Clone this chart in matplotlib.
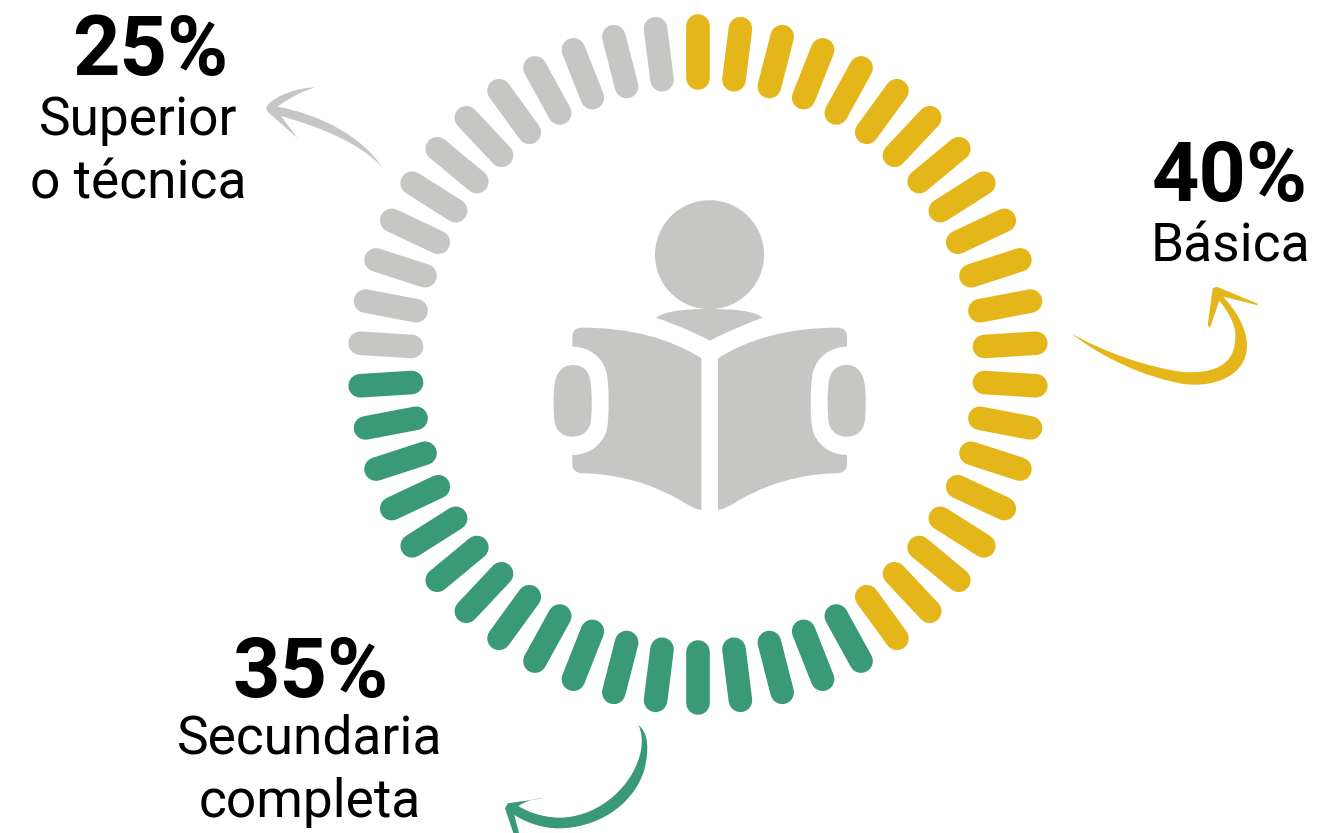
import numpy as np
import matplotlib
matplotlib.use('Agg')
import matplotlib.pyplot as plt
from matplotlib.path import Path
from matplotlib.patches import PathPatch, Circle

plt.rcParams['font.family'] = ['Roboto', 'DejaVu Sans']

# datos
shares = [40, 35, 25]
labels = ['Básica', 'Secundaria\ncompleta', 'Superior\no técnica']
tick_counts = [21, 17, 12]
colors = ['#E5B619', '#3A9A78', '#C6C6C5']

fig = plt.figure(figsize=(13.21, 8.33), dpi=100)
ax = fig.add_axes([0, 0, 1, 1])
ax.set_xlim(0, 1321)
ax.set_ylim(833, 0)
ax.axis('off')

# anillo de marcas
cx, cy = 698, 364.5
r_in, r_out = 287, 338.5
total = sum(tick_counts)
i = 0
for count, col in zip(tick_counts, colors):
    for _ in range(count):
        ang = 2 * np.pi * i / total
        ax.plot([cx + r_in * np.sin(ang), cx + r_out * np.sin(ang)],
                [cy - r_in * np.cos(ang), cy - r_out * np.cos(ang)],
                color=col, lw=17.0, solid_capstyle='round')
        i += 1


def shape(x0, y0, segs, col):
    # segs: puntos de zoom (3x) -> pixeles; 1 punto = linea, 3 puntos = bezier
    verts, codes = [], []
    for n, s in enumerate(segs):
        pts = [(x0 + p[0] / 3, y0 + p[1] / 3) for p in s]
        verts += pts
        if n == 0:
            codes.append(Path.MOVETO)
        elif len(s) == 1:
            codes.append(Path.LINETO)
        else:
            codes += [Path.CURVE4] * 3
    verts.append(verts[0])
    codes.append(Path.CLOSEPOLY)
    ax.add_patch(PathPatch(Path(verts, codes), fc=col, ec='none', clip_on=True))


# flechas
shape(1060, 280, [[(33, 160)], [(130, 235), (250, 290), (370, 312)],
                  [(480, 325), (572, 275), (560, 180)],
                  [(552, 130), (525, 90), (490, 50)],
                  [(590, 75)], [(595, 72)], [(470, 20)], [(458, 25)],
                  [(443, 135)], [(450, 143)], [(478, 62)],
                  [(512, 105), (532, 145), (525, 185)],
                  [(520, 260), (450, 282), (370, 276)],
                  [(260, 262), (130, 215), (33, 160)]], colors[0])
shape(255, 80, [[(382, 262)], [(320, 170), (200, 105), (68, 80)],
                [(100, 55), (140, 35), (180, 22)],
                [(120, 25), (70, 45), (40, 72)],
                [(33, 85)], [(40, 97)], [(128, 175)],
                [(110, 150), (90, 125), (78, 108)],
                [(190, 140), (310, 185), (382, 262)]], colors[2])
shape(495, 720, [[(430, 15)], [(462, 40), (462, 90), (448, 150)],
                 [(412, 262), (300, 325), (190, 325)],
                 [(150, 325), (100, 312), (58, 285)],
                 [(72, 339)], [(55, 339)], [(30, 265)], [(38, 250)], [(143, 235)],
                 [(115, 235), (90, 245), (70, 258)],
                 [(110, 283), (160, 294), (200, 293)],
                 [(320, 288), (420, 190), (438, 90)],
                 [(443, 60), (440, 35), (430, 15)]], colors[1])

# icono del lector
ic = colors[2]
ox, oy = 540, 190
ax.add_patch(Circle((709.5, 254.7), 54.5, fc=ic, ec='none'))
shape(ox, oy, [[(348, 383)], [(380, 360), (450, 357), (510, 357)],
               [(570, 357), (640, 360), (668, 383)],
               [(610, 405), (550, 430), (510, 452)],
               [(470, 430), (410, 405), (348, 383)]], ic)


def mirrored(raw, flip):
    if not flip:
        return raw
    return [[(2 * 509 - p[0], p[1]) for p in s] for s in raw]


page = [[(97, 440)], [(97, 422), (108, 413), (125, 413)],
        [(270, 413), (390, 445), (484, 505)], [(484, 960)],
        [(450, 955), (420, 925), (370, 905)],
        [(300, 870), (200, 850), (130, 850)],
        [(110, 850), (97, 840), (97, 822)], [(97, 795)],
        [(150, 795), (190, 760), (200, 720)],
        [(208, 690), (208, 590), (200, 550)],
        [(190, 505), (150, 470), (97, 470)]]
hand = [[(98, 525)], [(135, 525), (152, 550), (153, 590)],
        [(156, 620), (156, 650), (153, 690)],
        [(150, 720), (130, 740), (98, 740)],
        [(65, 740), (47, 720), (43, 690)],
        [(40, 650), (40, 620), (43, 590)],
        [(47, 550), (65, 525), (98, 525)]]
for flip in (False, True):
    shape(ox, oy, mirrored(page, flip), ic)
    shape(ox, oy, mirrored(hand, flip), ic)

# textos
pos = [(1230, 201, 261, 1230), (310, 697, 754, 310), (150, 75, 135, 138)]
for sh, lab, (xp, yp, yl, xl) in zip(shares, labels, pos):
    ax.text(xp, yp, f'{sh}%', fontsize=59.6, fontweight='bold', ha='center', va='baseline', color='black')
    for k, line in enumerate(lab.split('\n')):
        ax.text(xl, yl + k * 63.5, line, fontsize=38.3, ha='center', va='baseline', color='black')

fig.savefig('out.png', dpi=100)
